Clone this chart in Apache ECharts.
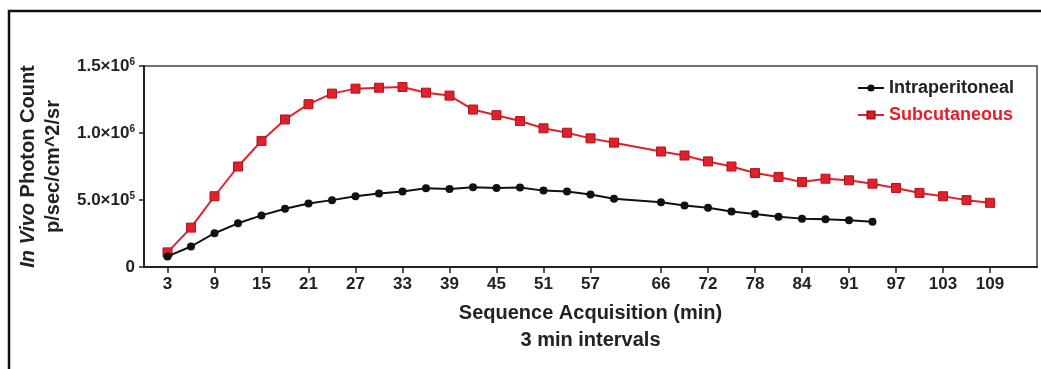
<!DOCTYPE html>
<html>
<head>
<meta charset="utf-8">
<script src="https://cdn.jsdelivr.net/npm/echarts@6/dist/echarts.min.js"></script>
<style>
  html, body { margin: 0; padding: 0; background: #fff; }
  #chart { width: 1041px; height: 369px; }
</style>
</head>
<body>
<div id="chart"></div>
<script>
// acquisition slot (each slot = one 3 min step, slot 20 was not acquired)
var slots = [0, 1, 2, 3, 4, 5, 6, 7, 8, 9, 10, 11, 12, 13, 14, 15, 16, 17, 18, 19,
             21, 22, 23, 24, 25, 26, 27, 28, 29, 30, 31, 32, 33, 34, 35];

// photon counts p/sec/cm^2/sr
var intraperitoneal = [79000, 153000, 252000, 326000, 385000, 435000, 474000, 499000, 528000, 548000,
                       563000, 588000, 583000, 595000, 590000, 593000, 570000, 563000, 541000, 509000,
                       484000, 459000, 442000, 415000, 396000, 375000, 361000, 356000, 348000, 338000];
var subcutaneous = [109000, 294000, 528000, 750000, 941000, 1101000, 1215000, 1294000, 1331000, 1338000,
                    1343000, 1301000, 1279000, 1175000, 1133000, 1089000, 1035000, 1002000, 960000, 928000,
                    862000, 832000, 788000, 750000, 701000, 672000, 635000, 659000, 647000, 622000,
                    590000, 553000, 528000, 499000, 479000];

// x tick labels (minutes) and the slot they sit on
var tickSlots  = [0, 2, 4, 6, 8, 10, 12, 14, 16, 18, 21, 23, 25, 27, 29, 31, 33, 35];
var tickLabels = ['3', '9', '15', '21', '27', '33', '39', '45', '51', '57', '66', '72', '78', '84', '91', '97', '103', '109'];

var yTickText = {0: '0', 500000: '{m|5.0×10}{s|5}', 1000000: '{m|1.0×10}{s|6}', 1500000: '{m|1.5×10}{s|6}'};

function pairs(vals) {
  var out = [];
  for (var i = 0; i < vals.length; i++) {
    out.push([slots[i], vals[i]]);
  }
  return out;
}

var FONT = '"Liberation Sans", Arial, sans-serif';
var RED = '#e0202b';

var myChart = echarts.init(document.getElementById('chart'));
var option = {
  animation: false,
  backgroundColor: '#fff',
  textStyle: { fontFamily: FONT },
  grid: {
    left: 144, right: 4, top: 66, bottom: 102,
    show: true, borderColor: '#444', borderWidth: 1.5
  },
  legend: {
    orient: 'vertical',
    right: 22, top: 74,
    itemWidth: 26, itemHeight: 9, itemGap: 9,
    textStyle: { fontFamily: FONT, fontWeight: 'bold', fontSize: 18 },
    data: [
      { name: 'Intraperitoneal', textStyle: { color: '#222' } },
      { name: 'Subcutaneous', textStyle: { color: RED } }
    ]
  },
  xAxis: {
    type: 'value',
    min: -1, max: 37,
    name: 'Sequence Acquisition (min)\n3 min intervals',
    nameLocation: 'middle',
    nameGap: 33,
    nameTextStyle: { fontFamily: FONT, fontWeight: 'bold', fontSize: 20, color: '#222', lineHeight: 27 },
    splitLine: { show: false },
    axisLine: { onZero: false, lineStyle: { color: '#222', width: 2 } },
    axisTick: { customValues: tickSlots, length: 6, lineStyle: { color: '#222', width: 1.5 } },
    axisLabel: {
      customValues: tickSlots,
      margin: 9,
      fontFamily: FONT, fontWeight: 'bold', fontSize: 17, color: '#222',
      formatter: function (v) {
        var k = tickSlots.indexOf(v);
        return k >= 0 ? tickLabels[k] : '';
      }
    }
  },
  yAxis: {
    type: 'value',
    min: 0, max: 1500000, interval: 500000,
    name: '{i|In Vivo} Photon Count\np/sec/cm^2/sr',
    nameLocation: 'middle',
    nameRotate: 90,
    nameGap: 78,
    nameTextStyle: {
      fontFamily: FONT, fontWeight: 'bold', fontSize: 20, color: '#222', lineHeight: 25,
      rich: {
        i: { fontFamily: FONT, fontWeight: 'bold', fontStyle: 'italic', fontSize: 20, color: '#222' }
      }
    },
    splitLine: { show: false },
    axisLine: { show: true, onZero: false, lineStyle: { color: '#222', width: 2 } },
    axisTick: { show: true, length: 5, lineStyle: { color: '#222', width: 1.5 } },
    axisLabel: {
      margin: 9,
      fontFamily: FONT, fontWeight: 'bold', fontSize: 17, color: '#222',
      formatter: function (v) { return yTickText[v]; },
      rich: {
        m: { fontFamily: FONT, fontWeight: 'bold', fontSize: 17, color: '#222' },
        s: { fontFamily: FONT, fontWeight: 'bold', fontSize: 10, color: '#222', verticalAlign: 'top' }
      }
    }
  },
  graphic: [
    {
      type: 'polyline',
      shape: { points: [[9, 369], [9, 11], [1041, 11]] },
      style: { stroke: '#111', lineWidth: 2.5, fill: null },
      silent: true
    }
  ],
  series: [
    {
      name: 'Intraperitoneal',
      type: 'line',
      data: pairs(intraperitoneal),
      symbol: 'circle',
      symbolSize: 8,
      itemStyle: { color: '#111' },
      lineStyle: { color: '#111', width: 2 },
      z: 3
    },
    {
      name: 'Subcutaneous',
      type: 'line',
      data: pairs(subcutaneous),
      symbol: 'rect',
      symbolSize: 9,
      itemStyle: { color: RED, borderColor: '#b0141c', borderWidth: 1 },
      lineStyle: { color: RED, width: 2 },
      z: 2
    }
  ]
};
myChart.setOption(option);
</script>
</body>
</html>
